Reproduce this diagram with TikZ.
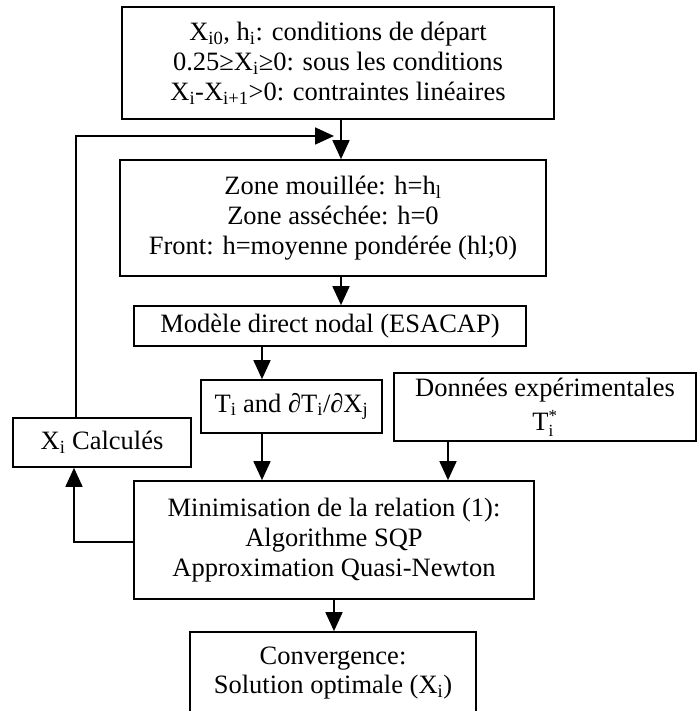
\documentclass[tikz,border=0pt]{standalone}
\usepackage{fontspec}
\setmainfont{Liberation Serif}
\usetikzlibrary{arrows.meta}
\newcommand\sbs[1]{\textsubscript{#1}}
\newcommand\smallfs[1]{\mbox{\fontsize{17}{17}\selectfont #1}}
\tikzset{
  box/.style={draw, line width=1.7pt, inner sep=0pt, align=center,
    font=\fontsize{26.5}{29}\selectfont},
  arr/.style={line width=1.7pt, -{Triangle[length=19pt,width=17pt]}}
}
\begin{document}
\begin{tikzpicture}[x=1pt,y=-1pt]
\useasboundingbox (0,0) rectangle (698,711);
\clip (0,0) rectangle (698,711);
% x positions of vertical connectors
\coordinate (xA) at (341,0);
\coordinate (xB) at (262,0);
\coordinate (xC) at (448,0);
\coordinate (xD) at (334,0);
\coordinate (xL) at (76,0);
\coordinate (xL2) at (74,0);
\coordinate (yM) at (0,542);
\coordinate (fb) at (334,136);

\node[box, minimum width=432pt, minimum height=112pt] (b1) at (338,63)
  {X\sbs{i0}, h\sbs{i}: conditions de départ\\[1pt]
   0.25≥X\sbs{i}≥0: sous les conditions\\[1pt]
   X\sbs{i}-X\sbs{i+1}>0: contraintes linéaires};
\node[box, minimum width=426pt, minimum height=116pt] (b2) at (333,218)
  {Zone mouillée: h=h\sbs{l}\\[1pt]
   Zone asséchée: h=0\\[1pt]
   Front: h=moyenne pondérée (hl;0)};
\node[box, minimum width=392pt, minimum height=40pt] (b3) at (330,326)
  {Modèle direct nodal (ESACAP)};
\node[box, minimum width=181pt, minimum height=53pt] (bt) at (291.5,406.5)
  {T\sbs{i} and ∂T\sbs{i}/∂X\sbs{j}};
\node[box, minimum width=302pt, minimum height=68pt] (bd) at (545,407)
  {Données expérimentales\\[5pt] T$^{\smallfs{*}}_{\smallfs{i}}$};
\node[box, minimum width=178pt, minimum height=49pt] (bx) at (102,442.5)
  {X\sbs{i} Calculés};
\node[box, minimum width=400pt, minimum height=118pt] (bm) at (334,540)
  {Minimisation de la relation (1):\\[1pt]
   Algorithme SQP\\[1pt]
   Approximation Quasi-Newton};
\node[box, minimum width=286pt, minimum height=82pt] (bc) at (333,673)
  {Convergence:\\ Solution optimale (X\sbs{i})};

\draw[arr] (b1.south -| xA) -- (b2.north -| xA);
\draw[arr] (bx.north -| xL) |- (fb);
\draw[arr] (b2.south -| xA) -- (b3.north -| xA);
\draw[arr] (b3.south -| xB) -- (bt.north -| xB);
\draw[arr] (bt.south -| xB) -- (bm.north -| xB);
\draw[arr] (bd.south -| xC) -- (bm.north -| xC);
\draw[arr] (bm.west |- yM) -| (bx.south -| xL2);
\draw[arr] (bm.south -| xD) -- (bc.north -| xD);
\end{tikzpicture}
\end{document}
